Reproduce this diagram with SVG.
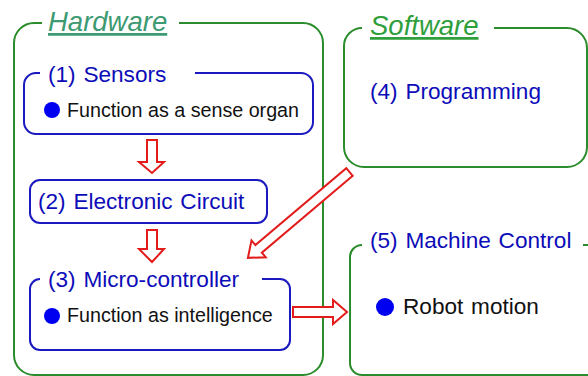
<svg xmlns="http://www.w3.org/2000/svg" width="588" height="376" viewBox="0 0 588 376">
<style>
.g{fill:none;stroke:#2b8c2b;stroke-width:2}
.b{fill:none;stroke:#1a1ac0;stroke-width:2}
.arr{fill:#fff;stroke:#e21b1b;stroke-width:2;stroke-linejoin:miter}
.ttl{font-family:"Liberation Sans",Arial,sans-serif;font-size:27.5px;font-style:italic;text-decoration:underline}
.hd{font-family:"Liberation Sans",Arial,sans-serif;font-size:22.6px;fill:#0c0cb8;word-spacing:1.5px}
.bd{font-family:"Liberation Sans",Arial,sans-serif;font-size:19.7px;fill:#111}
.dot{fill:#0000f0}
</style>
<rect width="588" height="376" fill="#fff"/>
<g id="hardware">
<path class="g" d="M179,23 H303 A20,20 0 0 1 323,43 V355 A20,20 0 0 1 303,375 H34 A20,20 0 0 1 14,355 V43 A20,20 0 0 1 34,23 H42"/>
<text class="ttl" x="48" y="31" fill="#3d9a72">Hardware</text>
</g>
<g id="sensors">
<path class="b" d="M195,73 H301 A12,12 0 0 1 313,85 V122 A12,12 0 0 1 301,134 H36 A12,12 0 0 1 24,122 V85 A12,12 0 0 1 36,73 H40"/>
<text class="hd" x="48" y="82">(1) Sensors</text>
<circle class="dot" cx="52" cy="110" r="8"/>
<text class="bd" x="67" y="117">Function as a sense organ</text>
</g>
<g id="circuit">
<rect class="b" x="30" y="180" width="237" height="43" rx="10"/>
<text class="hd" x="38" y="209">(2) Electronic Circuit</text>
</g>
<g id="microcontroller">
<path class="b" d="M262,279 H280 A10,10 0 0 1 290,289 V340 A10,10 0 0 1 280,350 H40 A10,10 0 0 1 30,340 V289 A10,10 0 0 1 40,279"/>
<text class="hd" x="48" y="287">(3) Micro-controller</text>
<circle class="dot" cx="52" cy="316" r="8"/>
<text class="bd" x="67" y="322">Function as intelligence</text>
</g>
<g id="software">
<path class="g" d="M494,28 H567 A20,20 0 0 1 587,48 V147 A20,20 0 0 1 567,167 H364 A20,20 0 0 1 344,147 V46 A18,18 0 0 1 362,28"/>
<text class="ttl" x="370" y="35" fill="#2f9e3c">Software</text>
<text class="hd" x="370" y="99">(4) Programming</text>
</g>
<g id="machine">
<path class="g" d="M583,245 H600 M362,245 A12,12 0 0 0 350,257 V363 A12,12 0 0 0 362,375 H600"/>
<text class="hd" x="370" y="248">(5) Machine Control</text>
<circle class="dot" cx="385" cy="307" r="9"/>
<text class="hd" x="403" y="314" style="fill:#111">Robot motion</text>
</g>
<g id="connectors">
<path class="arr" d="M147,140 H157 V162 H164 L152,173 L139,162 H147 Z"/>
<path class="arr" d="M147,230 H157 V249 H164 L152,262 L139,249 H147 Z"/>
<path class="arr" d="M293,307 H333 V300 L347,312 L333,324 V317 H293 Z"/>
<path class="arr" transform="translate(349.5,172) rotate(139.8)" d="M0,-5 H119 V-11 L133,0 L119,11 V5 H0 Z"/>
</g>
</svg>
